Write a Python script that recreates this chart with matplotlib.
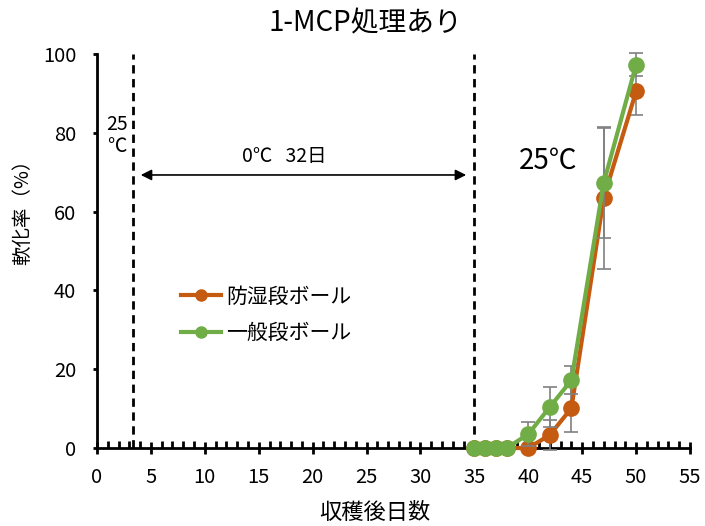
import matplotlib
matplotlib.use("Agg")
import matplotlib.pyplot as plt
from matplotlib.lines import Line2D
from matplotlib.ticker import MultipleLocator

plt.rcParams['font.family'] = ['Noto Sans CJK JP', 'DejaVu Sans']

# 収穫後日数と軟化率(%)
days = [35, 36, 37, 38, 40, 42, 44, 47, 50]
moist_proof = [0, 0, 0, 0, 0, 3.3, 10.1, 63.5, 90.5]
moist_proof_sd = [0, 0, 0, 0, 0, 3.8, 6.0, 18.0, 6.0]
general = [0, 0, 0, 0, 3.5, 10.4, 17.2, 67.3, 97.3]
general_sd = [0, 0, 0, 0, 3.0, 5.0, 3.5, 14.0, 3.0]
labels = ["防湿段ボール", "一般段ボール"]

# 貯蔵条件の区切り(日)
storage_start = 3.3
storage_end = 35

ORANGE = "#C55A11"
GREEN = "#70AD47"

fig = plt.figure(figsize=(7.05, 5.26), dpi=100)
ax = fig.add_axes([0.1376, 0.1483, 0.8411, 0.749])

for ys, sd, c, z in ((moist_proof, moist_proof_sd, ORANGE, 3),
                     (general, general_sd, GREEN, 4)):
    _, caps, bars = ax.errorbar(days, ys, yerr=sd, fmt="none", ecolor="#808080",
                                elinewidth=1.2, capsize=5, capthick=1.2, zorder=z)
    for a in list(caps) + list(bars):
        a.set_clip_on(False)
    ax.plot(days, ys, color=c, lw=3, marker="o", ms=11, zorder=z + 0.5,
            clip_on=False)

# 貯蔵区間の破線
for xv in (storage_start, storage_end):
    ax.plot([xv, xv], [0, 100], color="black", lw=2, ls=(0, (3, 2)), zorder=2)

ax.annotate("", xy=(storage_end - 0.5, 69.3), xytext=(storage_start + 0.5, 69.3),
            arrowprops=dict(arrowstyle="<|-|>", color="black", lw=1.2,
                            mutation_scale=16))
ax.text(17.4, 74, "0℃   32日", ha="center", va="center", fontsize=14)
ax.text(1.85, 82.2, "25", ha="center", va="center", fontsize=14)
ax.text(1.85, 76.6, "℃", ha="center", va="center", fontsize=14)
ax.text(41.8, 73, "25℃", ha="center", va="center", fontsize=20)

ax.set_xlim(0, 55)
ax.set_ylim(0, 100)
ax.xaxis.set_major_locator(MultipleLocator(5))
ax.xaxis.set_minor_locator(MultipleLocator(1))
ax.yaxis.set_major_locator(MultipleLocator(20))

for sp in ("top", "right"):
    ax.spines[sp].set_visible(False)
for sp in ("left", "bottom"):
    ax.spines[sp].set_linewidth(2)

ax.tick_params(axis="x", which="major", direction="inout", length=9, width=2,
               labelsize=14.5, pad=9)
ax.tick_params(axis="x", which="minor", direction="in", length=5, width=2)
ax.tick_params(axis="y", which="major", direction="out", length=3, width=2,
               labelsize=14.5, pad=12)

ax.set_xlabel("収穫後日数", fontsize=16)
ax.xaxis.set_label_coords(0.469, -0.135)
ax.set_ylabel("軟化率（%）", fontsize=14)
ax.yaxis.set_label_coords(-0.108, 0.612)

fig.text(0.518, 0.955, "1-MCP処理あり", ha="center", va="center", fontsize=20)

handles = [Line2D([], [], color=ORANGE, lw=3, marker="o", ms=8),
           Line2D([], [], color=GREEN, lw=3, marker="o", ms=8)]
ax.legend(handles, labels, loc="upper left", bbox_to_anchor=(0.11, 0.46),
          frameon=False, fontsize=15, handlelength=1.9, handletextpad=0.25,
          labelspacing=0.7)

fig.savefig("out.png", dpi=100)
